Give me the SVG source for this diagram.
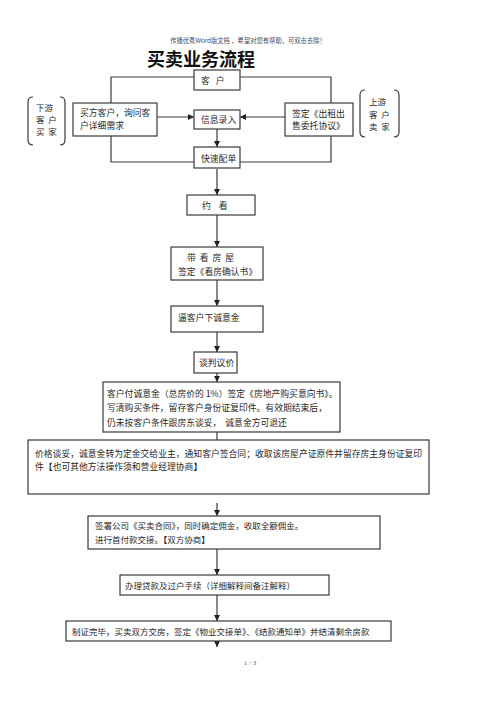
<svg xmlns="http://www.w3.org/2000/svg" width="500" height="708" viewBox="0 0 500 708">
<style>
.box{fill:#fff;stroke:#3a3a3a;stroke-width:1.2}
.ln{fill:none;stroke:#3a3a3a;stroke-width:1.2}
.t{font-family:"Noto Sans CJK SC","Noto Sans",sans-serif;font-size:8.8px;fill:#2a2a2a}
.s{font-size:8.5px}
.b{font-weight:bold}
</style>
<defs>
<marker id="ah" markerUnits="userSpaceOnUse" markerWidth="6" markerHeight="6" viewBox="0 0 6 6" refX="6" refY="3" orient="auto">
<path d="M0,0 L6,3 L0,6 Z" fill="#222"/>
</marker>
</defs>
<rect width="500" height="708" fill="#fff"/>
<text x="248" y="43" text-anchor="middle" font-family="'Noto Sans CJK SC',sans-serif" font-size="6.3" fill="#444a66">传播优秀Word版文档 ，希望对您有帮助，可双击去除！</text>
<text x="201" y="66" text-anchor="middle" font-family="'Noto Sans CJK SC',sans-serif" font-size="18" font-weight="bold" fill="#111">买卖业务流程</text>

<g id="connectors">
<polyline class="ln" points="194,77 111,77 111,162 194,162"/>
<polyline class="ln" points="240,77 331,77 331,162 240,162"/>
<line class="ln" x1="157" y1="117" x2="194" y2="117" marker-end="url(#ah)"/>
<line class="ln" x1="285" y1="117" x2="240" y2="117" marker-end="url(#ah)"/>
<line class="ln" x1="217" y1="129" x2="217" y2="147" marker-end="url(#ah)"/>
<line class="ln" x1="217" y1="169" x2="217" y2="195" marker-end="url(#ah)"/>
<line class="ln" x1="217" y1="215" x2="217" y2="247" marker-end="url(#ah)"/>
<line class="ln" x1="217" y1="280" x2="217" y2="306" marker-end="url(#ah)"/>
<line class="ln" x1="217" y1="332" x2="217" y2="352" marker-end="url(#ah)"/>
<line class="ln" x1="217" y1="373" x2="217" y2="382" marker-end="url(#ah)"/>
<line class="ln" x1="217" y1="432" x2="217" y2="440"/>
<line class="ln" x1="217" y1="503" x2="217" y2="516" marker-end="url(#ah)"/>
<line class="ln" x1="217" y1="549" x2="217" y2="575" marker-end="url(#ah)"/>
<line class="ln" x1="217" y1="595" x2="217" y2="621" marker-end="url(#ah)"/>
<line class="ln" x1="217" y1="641" x2="217" y2="647" marker-end="url(#ah)"/>
</g>

<g id="customer">
<rect class="box" x="194" y="70" width="46" height="20"/>
<text class="t" x="201" y="83.5" xml:space="preserve">客   户</text>
</g>

<g id="downstream">
<path class="ln" d="M33,97 Q28,97 28,102 L28,140 Q28,145 33,145"/>
<path class="ln" d="M60,97 Q65,97 65,102 L65,140 Q65,145 60,145"/>
<text class="t s" x="36" y="110.5">下游</text>
<text class="t s" x="36" y="122.5" xml:space="preserve">客  户</text>
<text class="t s" x="36" y="134.5" xml:space="preserve">买  家</text>
</g>

<g id="upstream">
<path class="ln" d="M365,90 Q360,90 360,95 L360,132 Q360,137 365,137"/>
<path class="ln" d="M394,90 Q399,90 399,95 L399,132 Q399,137 394,137"/>
<text class="t s" x="369" y="105">上游</text>
<text class="t s" x="369" y="117.5" xml:space="preserve">客  户</text>
<text class="t s" x="369" y="130" xml:space="preserve">卖  家</text>
</g>

<g id="buyer">
<rect class="box" x="73" y="103" width="84" height="33"/>
<text class="t" x="80" y="115.5">买方客户，询问客</text>
<text class="t" x="80" y="128.5">户详细需求</text>
</g>

<g id="seller">
<rect class="box" x="285" y="103" width="68" height="33"/>
<text class="t" x="292" y="116.5">签定《出租出</text>
<text class="t" x="292" y="128.5">售委托协议》</text>
</g>

<g id="info">
<rect class="box" x="194" y="110" width="46" height="19"/>
<text class="t" x="201" y="122.5">信息录入</text>
</g>

<g id="match">
<rect class="box" x="194" y="147" width="46" height="21"/>
<text class="t" x="201" y="161.5">快速配单</text>
</g>

<g id="appointment">
<rect class="box" x="187" y="195" width="68" height="20"/>
<text class="t" x="202" y="208.5" xml:space="preserve">约    看</text>
</g>

<g id="viewing">
<rect class="box" x="171" y="247" width="92" height="33"/>
<text class="t" x="187" y="260.5" xml:space="preserve">带  看  房  屋</text>
<text class="t" x="178" y="274.5">签定《看房确认书》</text>
</g>

<g id="deposit">
<rect class="box" x="171" y="306" width="92" height="26"/>
<text class="t" x="178" y="320.5">逼客户下诚意金</text>
</g>

<g id="negotiate">
<rect class="box" x="194" y="352" width="43" height="21"/>
<text class="t" x="199" y="366">谈判议价</text>
</g>

<g id="intent">
<rect class="box" x="103" y="382" width="237" height="50"/>
<text class="t" x="107" y="396.5">客户付诚意金（总房价的 1%）签定《房地产购买意向书》。</text>
<text class="t" x="107" y="411">写清购买条件，留存客户身份证复印件。有效期结束后，</text>
<text class="t" x="107" y="425.5" xml:space="preserve">仍未按客户条件跟房东谈妥，  诚意金方可退还</text>
</g>

<g id="price">
<rect class="box" x="28" y="440" width="401" height="54"/>
<text class="t" x="35" y="456.5">价格谈妥，诚意金转为定金交给业主，通知客户签合同；收取该房屋产证原件并留存房主身份证复印</text>
<text class="t" x="35" y="469.5">件<tspan class="b">【</tspan>也可其他方法操作须和营业经理协商<tspan class="b">】</tspan></text>
</g>

<g id="contract">
<rect class="box" x="88" y="516" width="292" height="33"/>
<text class="t s" x="95" y="528.5">签署公司《买卖合同》，同时确定佣金，收取全额佣金。</text>
<text class="t s" x="95" y="542.5">进行首付款交接。<tspan class="b">【</tspan>双方协商<tspan class="b">】</tspan></text>
</g>

<g id="loan">
<rect class="box" x="120" y="575" width="209" height="20"/>
<text class="t s" x="125" y="588.5">办理贷款及过户手续（详细解释间备注解释）</text>
</g>

<g id="handover">
<rect class="box" x="66" y="621" width="325" height="20"/>
<text class="t s" x="72" y="634.5">制证完毕，买卖双方交房，签定《物业交接单》、《结款通知单》并结清剩余房款</text>
</g>

<text x="250" y="665" text-anchor="middle" font-family="'Liberation Serif',serif" font-size="7" fill="#666">1 / 3</text>
</svg>
